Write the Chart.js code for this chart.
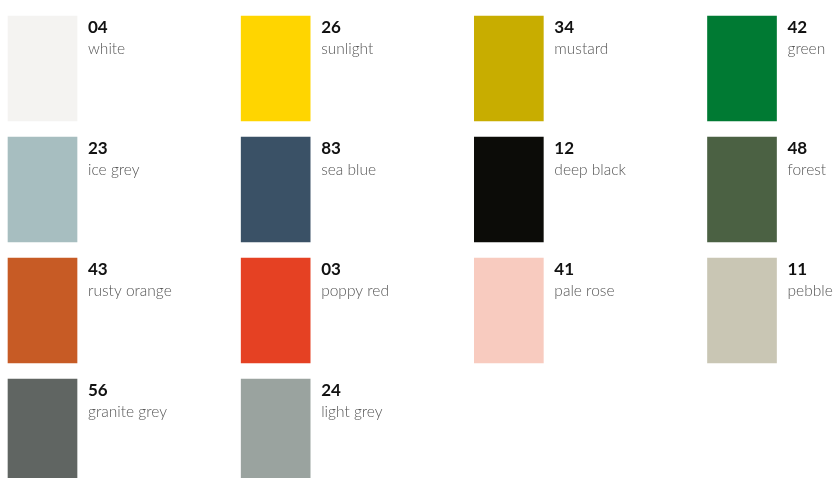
<!DOCTYPE html>
<html>
<head>
<meta charset="utf-8">
<script src="https://cdn.jsdelivr.net/npm/chart.js@4"></script>
<style>
    html, body { margin: 0; padding: 0; background: #ffffff; }
    #wrap { width: 837px; height: 478px; position: relative; }
</style>
</head>
<body>
<div id="wrap"><canvas id="swatches"></canvas></div>
<script>
const codes = ['04', '26', '34', '42', '23', '83', '12', '48', '43', '03', '41', '11', '56', '24'];
const names = ['white', 'sunlight', 'mustard', 'green', 'ice grey', 'sea blue', 'deep black', 'forest',
    'rusty orange', 'poppy red', 'pale rose', 'pebble', 'granite grey', 'light grey'];
const swatchColors = ['#f4f3f1', '#ffd500', '#c8ad00', '#007a33', '#a7bec0', '#3a5166', '#0c0c08', '#4b6143',
    '#c75b25', '#e54123', '#f8cbbf', '#c9c6b4', '#606562', '#9aa39f'];
const COLUMNS = 4;
const SWATCH_FILL = 105 / 121;

const points = codes.map((code, i) => {
    const row = Math.floor(i / COLUMNS);
    return { x: i % COLUMNS, y: [row, row + SWATCH_FILL] };
});

const swatchLabels = {
    id: 'swatchLabels',
    afterDatasetsDraw(chart) {
        const ctx = chart.ctx;
        const meta = chart.getDatasetMeta(0);
        ctx.save();
        ctx.textAlign = 'left';
        ctx.textBaseline = 'alphabetic';
        meta.data.forEach((bar, i) => {
            const { x, y, base, width } = bar.getProps(['x', 'y', 'base', 'width'], true);
            const top = Math.min(y, base);
            const left = x + width / 2 + 11;
            ctx.fillStyle = '#111111';
            ctx.font = 'bold 17px Lato, "Open Sans", sans-serif';
            ctx.fillText(codes[i], left, top + 17);
            ctx.fillStyle = '#555555';
            ctx.font = '300 15.5px Lato, "Open Sans", sans-serif';
            ctx.fillText(names[i], left, top + 38);
        });
        ctx.restore();
    }
};

new Chart(document.getElementById('swatches'), {
    type: 'bar',
    data: {
        datasets: [
            {
                data: points,
                backgroundColor: swatchColors,
                borderWidth: 0,
                barThickness: 69
            }
        ]
    },
    options: {
        responsive: true,
        maintainAspectRatio: false,
        animation: false,
        layout: { padding: 0 },
        plugins: {
            legend: { display: false },
            tooltip: { enabled: false }
        },
        scales: {
            x: { type: 'linear', offset: false, min: -0.1823, max: 3.4074, display: false },
            y: { type: 'linear', reverse: true, min: -0.1322, max: 3.818, display: false }
        }
    },
    plugins: [swatchLabels]
});
</script>
</body>
</html>
